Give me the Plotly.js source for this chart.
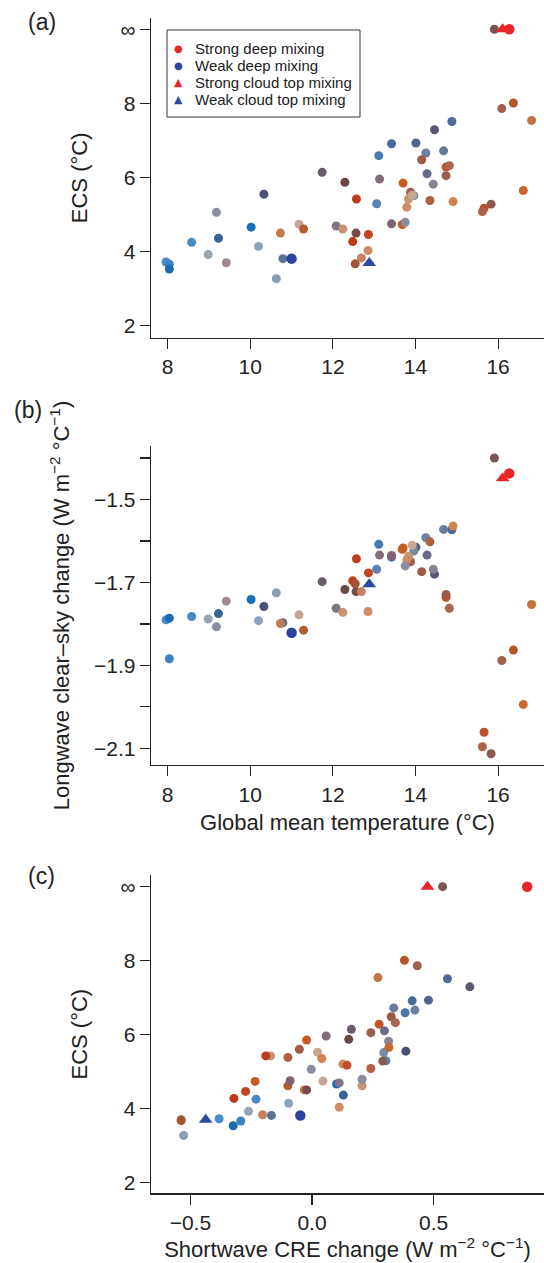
<!DOCTYPE html>
<html>
<head>
<meta charset="utf-8">
<script src="https://cdn.plot.ly/plotly-3.0.1.min.js"></script>
<style>
  html, body { margin: 0; padding: 0; background: #fff; }
  #chart { width: 544px; height: 1263px; }
</style>
</head>
<body>
<div id="chart"></div>
<script>
// One entry per model configuration.
// Global mean temperature (°C)
const gmt = [
  15.91, 16.11, 16.27, 16.37, 16.09, 16.81, 14.88, 14.46, 13.42, 14.01,
  14.25, 14.68, 13.11, 14.15, 14.74, 14.82, 11.74, 14.28, 14.74, 12.29,
  13.13, 13.70, 14.43, 13.88, 13.96, 13.83, 13.92, 12.57, 14.35, 14.91,
  13.06, 13.79, 15.83, 15.66, 15.62, 16.61, 10.33, 9.18, 10.02, 8.58,
  9.23, 8.98, 9.42, 7.96, 8.04, 8.04, 10.20, 10.63, 10.79, 11.00,
  10.73, 11.18, 11.29, 12.08, 12.24, 12.56, 12.86, 12.48, 12.85, 12.69,
  12.54, 12.88, 13.42, 13.68, 13.75
];
// Equilibrium climate sensitivity (°C); Infinity = runaway warming
const ecs = [
  Infinity, Infinity, Infinity, 8.01, 7.86, 7.54, 7.51, 7.29, 6.91, 6.93,
  6.66, 6.72, 6.59, 6.48, 6.28, 6.32, 6.14, 6.10, 6.05, 5.87,
  5.96, 5.85, 5.82, 5.60, 5.51, 5.42, 5.52, 5.42, 5.38, 5.35,
  5.29, 5.20, 5.28, 5.17, 5.08, 5.65, 5.55, 5.06, 4.66, 4.25,
  4.36, 3.92, 3.70, 3.72, 3.66, 3.53, 4.14, 3.27, 3.81, 3.81,
  4.50, 4.74, 4.61, 4.69, 4.61, 4.50, 4.46, 4.27, 4.03, 3.83,
  3.67, 3.69, 4.75, 4.73, 4.79
];
// Longwave clear-sky change (W m-2 °C-1)
const lwClearSky = [
  -1.400, -1.449, -1.437, -1.863, -1.888, -1.753, -1.573, -1.680, -1.639, -1.615,
  -1.592, -1.572, -1.608, -1.674, -1.736, -1.762, -1.698, -1.634, -1.729, -1.717,
  -1.634, -1.617, -1.668, -1.650, -1.624, -1.637, -1.610, -1.643, -1.602, -1.564,
  -1.668, -1.645, -2.113, -2.061, -2.096, -1.994, -1.758, -1.807, -1.741, -1.782,
  -1.775, -1.788, -1.745, -1.790, -1.884, -1.786, -1.792, -1.725, -1.797, -1.821,
  -1.799, -1.778, -1.815, -1.762, -1.772, -1.722, -1.677, -1.696, -1.770, -1.722,
  -1.703, -1.704, -1.635, -1.620, -1.660
];
// Shortwave cloud radiative effect change (W m-2 °C-1)
const swCre = [
  0.537, 0.475, 0.885, 0.380, 0.433, 0.271, 0.557, 0.649, 0.412, 0.479,
  0.423, 0.336, 0.383, 0.326, 0.276, 0.343, 0.162, 0.298, 0.242, 0.151,
  0.058, -0.022, 0.315, -0.052, 0.295, -0.170, 0.023, -0.190, -0.099, 0.040,
  0.304, 0.127, 0.291, 0.144, 0.242, 0.316, 0.386, -0.003, 0.101, -0.230,
  0.129, -0.261, -0.538, -0.382, -0.293, -0.324, -0.096, -0.528, -0.167, -0.048,
  -0.032, 0.045, -0.099, 0.112, 0.206, -0.022, -0.273, -0.321, 0.112, -0.203,
  -0.538, -0.437, -0.090, -0.234, 0.206
];
// Colour of each configuration (blue = weak mixing, red/orange = strong mixing)
const pointColor = [
  '#7a5552', '#e8262a', '#e8262a', '#b4552c', '#a0604c', '#c8703f', '#4e6a94', '#5a5872', '#4a6c9c', '#52648a',
  '#6e7fa0', '#6a7a9a', '#4a78b0', '#9e5a46', '#c0552a', '#ab6650', '#6c5a6a', '#676b8a', '#9c5c4c', '#6a4848',
  '#826c7a', '#c85a22', '#8a8292', '#a05c4c', '#7a8aa4', '#c49474', '#c8a894', '#c03a20', '#b0603c', '#d08452',
  '#5a82b4', '#cc8e66', '#8a5a52', '#c04e2c', '#b06248', '#c8682e', '#4a5070', '#8a8ca2', '#1a70b8', '#4a8ac2',
  '#3a6494', '#96a4b4', '#a08a8a', '#4a8ac8', '#3a82c2', '#1a6cb2', '#8aa2ba', '#8a9cb2', '#5a7294', '#2c44a0',
  '#c07a52', '#c4a494', '#b65a30', '#827282', '#c89274', '#7a4a4a', '#c24420', '#c03c18', '#d08c62', '#c88262',
  '#a45232', '#2c48a0', '#826272', '#c85a22', '#8a8ca2'
];
// End-member configurations: sd/wd = strong/weak deep mixing, sc/wc = strong/weak cloud top mixing
const mixing = [
  '', 'sc', 'sd', '', '', '', '', '', '', '',
  '', '', '', '', '', '', '', '', '', '',
  '', '', '', '', '', '', '', '', '', '',
  '', '', '', '', '', '', '', '', '', '',
  '', '', '', '', '', '', '', '', '', 'wd',
  '', '', '', '', '', '', '', '', '', '',
  '', 'wc', '', '', ''
];

const legendOrder = ['sd', 'wd', 'sc', 'wc'];
const legendNames = ['Strong deep mixing', 'Weak deep mixing', 'Strong cloud top mixing', 'Weak cloud top mixing'];
const kindStyle = {
  sd: { color: '#e8262a', symbol: 'circle', size: 10.5, glyph: '\u25cf', glyphSize: 10 },
  wd: { color: '#2c44a0', symbol: 'circle', size: 10.5, glyph: '\u25cf', glyphSize: 10 },
  sc: { color: '#e8262a', symbol: 'triangle-up', size: 12, glyph: '\u25b2', glyphSize: 11 },
  wc: { color: '#2c48a0', symbol: 'triangle-up', size: 12, glyph: '\u25b2', glyphSize: 11 }
};

const ecsTickVals = [2, 4, 6, 8, 10];
const ecsTickText = ['2', '4', '6', '8', '\u221e'];
const INF_SLOT = 10;               // axis slot where runaway (∞) cases sit
const gmtTicks = [8, 10, 12, 14, 16];
const lwTickVals = [-2.1, -1.9, -1.7, -1.5];
const lwTickText = ['\u22122.1', '\u22121.9', '\u22121.7', '\u22121.5'];
const lwMinorTicks = [-2.0, -1.8, -1.6, -1.4];
const swTickVals = [-0.5, 0, 0.5];
const swTickText = ['\u22120.5', '0.0', '0.5'];

const ecsPlot = ecs.map(v => (isFinite(v) ? v : INF_SLOT));

const panels = [
  { xs: gmt, ys: ecsPlot, xa: 'x', ya: 'y' },
  { xs: gmt, ys: lwClearSky, xa: 'x2', ya: 'y2' },
  { xs: swCre, ys: ecsPlot, xa: 'x3', ya: 'y3' }
];

const traces = [];
panels.forEach(p => {
  const idx = mixing.map((m, i) => i).filter(i => mixing[i] === '');
  traces.push({
    type: 'scatter', mode: 'markers', showlegend: false, hoverinfo: 'skip',
    xaxis: p.xa, yaxis: p.ya,
    x: idx.map(i => p.xs[i]), y: idx.map(i => p.ys[i]),
    marker: { size: 9, color: idx.map(i => pointColor[i]), line: { width: 0 } }
  });
  legendOrder.forEach((k, j) => {
    const ids = mixing.map((m, i) => i).filter(i => mixing[i] === k);
    const st = kindStyle[k];
    traces.push({
      type: 'scatter', mode: 'markers', name: legendNames[j], showlegend: false, hoverinfo: 'skip',
      xaxis: p.xa, yaxis: p.ya,
      x: ids.map(i => p.xs[i]), y: ids.map(i => p.ys[i]),
      marker: { size: st.size, symbol: st.symbol, color: st.color, line: { width: 0 } }
    });
  });
});

const ink = '#222';
const baseAxis = {
  showline: true, linecolor: ink, linewidth: 1.3,
  ticks: 'outside', ticklen: 10, tickwidth: 1.1, tickcolor: ink,
  showgrid: false, zeroline: false,
  tickfont: { size: 21, color: ink }
};
const titleFont = { size: 22, color: ink };
const H = 1263, W = 544;
const left = 151 / W;
const px = v => v / W;           // horizontal pixel -> paper fraction
const py = v => 1 - v / H;       // vertical pixel -> paper fraction

// Key box in the top panel
const keyBox = { x0: 167, x1: 360, y0: 30, y1: 117 };
const keyRows = [48.5, 65.5, 82.5, 99.5];
const keyGlyphX = 178, keyTextX = 193;

const annotations = [
  { text: '(a)', x: px(42), y: py(22) },
  { text: '(b)', x: px(28), y: py(410) },
  { text: '(c)', x: px(41), y: py(876) }
].map(a => Object.assign(a, {
  xref: 'paper', yref: 'paper', xanchor: 'center', yanchor: 'middle',
  showarrow: false, font: { size: 23, color: ink }
}));

legendOrder.forEach((k, j) => {
  const st = kindStyle[k];
  annotations.push({
    xref: 'paper', yref: 'paper', x: px(keyGlyphX), y: py(keyRows[j]),
    xanchor: 'center', yanchor: 'middle', showarrow: false,
    text: st.glyph, font: { size: st.glyphSize, color: st.color, family: 'DejaVu Sans, sans-serif' }
  });
  annotations.push({
    xref: 'paper', yref: 'paper', x: px(keyTextX), y: py(keyRows[j]),
    xanchor: 'left', yanchor: 'middle', showarrow: false,
    text: legendNames[j], font: { size: 15, color: ink }
  });
});

const layout = {
  width: W, height: H,
  margin: { l: 0, r: 0, t: 0, b: 0 },
  paper_bgcolor: '#fff', plot_bgcolor: '#fff',
  font: { family: 'Liberation Sans, Arial, Helvetica, sans-serif', color: ink },
  showlegend: false,
  xaxis: Object.assign({}, baseAxis, {
    domain: [left, 1], anchor: 'y', range: [7.596, 17.111], tickvals: gmtTicks
  }),
  yaxis: Object.assign({}, baseAxis, {
    domain: [py(337.7), py(18)], anchor: 'x', range: [1.676, 10.305],
    tickvals: ecsTickVals, ticktext: ecsTickText,
    title: { text: 'ECS (\u00b0C)', font: titleFont, standoff: 26 }
  }),
  xaxis2: Object.assign({}, baseAxis, {
    domain: [left, 1], anchor: 'y2', range: [7.596, 17.111], tickvals: gmtTicks,
    title: { text: 'Global mean temperature (\u00b0C)', font: titleFont, standoff: 10 }
  }),
  yaxis2: Object.assign({}, baseAxis, {
    domain: [py(765), py(446)], anchor: 'x2', range: [-2.140, -1.371],
    tickvals: lwTickVals, ticktext: lwTickText,
    minor: { tickvals: lwMinorTicks, ticks: 'outside', ticklen: 10, tickwidth: 1.1, tickcolor: ink, showgrid: false },
    title: { text: 'Longwave clear\u2013sky change (W m<sup>\u22122</sup> \u00b0C<sup>\u22121</sup>)', font: titleFont, standoff: 18 }
  }),
  xaxis3: Object.assign({}, baseAxis, {
    domain: [left, 1], anchor: 'y3', range: [-0.662, 0.954],
    tickvals: swTickVals, ticktext: swTickText,
    title: { text: 'Shortwave CRE change (W m<sup>\u22122</sup> \u00b0C<sup>\u22121</sup>)', font: titleFont, standoff: 8 }
  }),
  yaxis3: Object.assign({}, baseAxis, {
    domain: [py(1193.3), py(875)], anchor: 'x3', range: [1.703, 10.316],
    tickvals: ecsTickVals, ticktext: ecsTickText,
    title: { text: 'ECS (\u00b0C)', font: titleFont, standoff: 26 }
  }),
  shapes: [{
    type: 'rect', xref: 'paper', yref: 'paper',
    x0: px(keyBox.x0), x1: px(keyBox.x1), y0: py(keyBox.y1), y1: py(keyBox.y0),
    line: { color: '#333', width: 1 }, fillcolor: '#fff', layer: 'above'
  }],
  annotations: annotations
};

Plotly.newPlot('chart', traces, layout, { staticPlot: true, displayModeBar: false });
</script>
</body>
</html>
